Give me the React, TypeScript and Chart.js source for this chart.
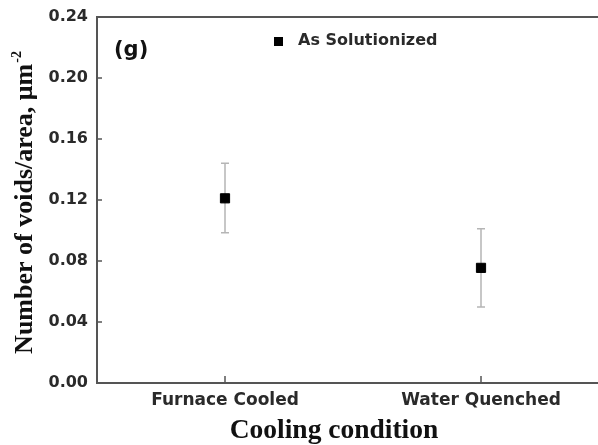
import React, { useEffect, useRef } from 'react';
import { Chart, registerables } from 'chart.js';

Chart.register(...registerables);

const categories = ['Furnace Cooled', 'Water Quenched'];
const categoryPositions = [1, 2];
const meanValues = [0.1211, 0.0755];
const errorLow = [0.0985, 0.0499];
const errorHigh = [0.1441, 0.1011];
const yTickValues = [0, 0.04, 0.08, 0.12, 0.16, 0.2, 0.24];
const seriesName = 'As Solutionized';
const panelLabel = '(g)';
const yTitleMain = 'Number of voids/area, μm';
const yTitleSup = '-2';
const xTitle = 'Cooling condition';

const AXIS_COLOR = '#555555';
const TEXT_COLOR = '#2a2a2a';

const decorPlugin = {
  id: 'decor',
  beforeDatasetsDraw(chart: any) {
    const { ctx, scales } = chart;
    const x = scales.x;
    const y = scales.y;
    ctx.save();
    ctx.strokeStyle = '#b5b5b5';
    ctx.lineWidth = 1.5;
    categoryPositions.forEach((c, i) => {
      const px = x.getPixelForValue(c);
      const top = y.getPixelForValue(errorHigh[i]);
      const bot = y.getPixelForValue(errorLow[i]);
      ctx.beginPath();
      ctx.moveTo(px, top);
      ctx.lineTo(px, bot);
      ctx.moveTo(px - 4, top);
      ctx.lineTo(px + 4, top);
      ctx.moveTo(px - 4, bot);
      ctx.lineTo(px + 4, bot);
      ctx.stroke();
    });
    ctx.restore();
  },
  afterDraw(chart: any) {
    const { ctx, scales, chartArea } = chart;
    const x = scales.x;
    const y = scales.y;
    ctx.save();
    // top frame line
    ctx.strokeStyle = AXIS_COLOR;
    ctx.lineWidth = 2;
    ctx.beginPath();
    ctx.moveTo(chartArea.left - 1, chartArea.top);
    ctx.lineTo(chartArea.right, chartArea.top);
    ctx.stroke();
    // inward ticks
    ctx.lineWidth = 1.5;
    ctx.beginPath();
    y.ticks.forEach((t: any) => {
      const py = y.getPixelForValue(t.value);
      ctx.moveTo(chartArea.left, py);
      ctx.lineTo(chartArea.left + 5, py);
    });
    x.ticks.forEach((t: any) => {
      const px = x.getPixelForValue(t.value);
      ctx.moveTo(px, chartArea.bottom);
      ctx.lineTo(px, chartArea.bottom - 7);
    });
    ctx.stroke();

    // legend
    ctx.fillStyle = '#000';
    ctx.fillRect(274, 37, 9, 9);
    ctx.fillStyle = TEXT_COLOR;
    ctx.font = 'bold 16px "DejaVu Sans"';
    ctx.textBaseline = 'middle';
    ctx.textAlign = 'left';
    ctx.fillText(seriesName, 298, 41);

    // panel label
    ctx.fillStyle = '#111';
    ctx.font = 'bold 21px "DejaVu Sans"';
    ctx.fillText(panelLabel, 114, 51);

    // x title
    ctx.fillStyle = '#111';
    ctx.font = 'bold 27.5px "Liberation Serif"';
    ctx.textAlign = 'center';
    ctx.textBaseline = 'alphabetic';
    ctx.fillText(xTitle, 334, 438);

    // y title (rotated)
    ctx.font = 'bold 26px "Liberation Serif"';
    const w1 = ctx.measureText(yTitleMain).width;
    ctx.font = 'bold 14px "Liberation Serif"';
    const w2 = ctx.measureText(yTitleSup).width;
    const total = w1 + w2 + 1;
    ctx.translate(32, 202.5);
    ctx.rotate(-Math.PI / 2);
    ctx.textAlign = 'left';
    ctx.font = 'bold 26px "Liberation Serif"';
    ctx.fillText(yTitleMain, -total / 2, 0);
    ctx.font = 'bold 14px "Liberation Serif"';
    ctx.fillText(yTitleSup, -total / 2 + w1 + 1, -11);
    ctx.restore();
  },
};

export default function App() {
  const canvasRef = useRef<HTMLCanvasElement | null>(null);

  useEffect(() => {
    const canvas = canvasRef.current;
    if (!canvas) return;
    const chart = new Chart(canvas, {
      type: 'scatter',
      data: {
        datasets: [
          {
            label: seriesName,
            data: categoryPositions.map((c, i) => ({ x: c, y: meanValues[i] })),
            pointStyle: 'rect',
            pointRadius: 6.5,
            pointHoverRadius: 6.5,
            backgroundColor: '#000',
            borderColor: '#000',
            borderWidth: 1,
          },
        ],
      },
      options: {
        responsive: false,
        animation: false,
        events: [],
        layout: { autoPadding: false, padding: { top: 17, right: 0, left: 0, bottom: 0 } },
        plugins: {
          legend: { display: false },
          tooltip: { enabled: false },
          title: { display: false },
        },
        scales: {
          x: {
            type: 'linear',
            min: 0.5,
            max: 2.457,
            grid: { display: false, drawTicks: false },
            border: { display: true, color: AXIS_COLOR, width: 2 },
            afterBuildTicks: (scale: any) => {
              scale.ticks = categoryPositions.map((v) => ({ value: v }));
            },
            afterFit: (scale: any) => {
              scale.height = 62;
              scale.paddingLeft = 0;
              scale.paddingRight = 0;
            },
            ticks: {
              padding: 7,
              color: TEXT_COLOR,
              font: { family: '"DejaVu Sans"', size: 17, weight: 'bold' },
              maxRotation: 0,
              callback: (value: any) => {
                const idx = categoryPositions.indexOf(Number(value));
                return idx >= 0 ? categories[idx] : '';
              },
            },
          },
          y: {
            type: 'linear',
            min: 0,
            max: 0.24,
            grid: { display: false, drawTicks: false },
            border: { display: true, color: AXIS_COLOR, width: 2 },
            afterBuildTicks: (scale: any) => {
              scale.ticks = yTickValues.map((v) => ({ value: v }));
            },
            afterFit: (scale: any) => {
              scale.width = 97;
              scale.paddingTop = 0;
              scale.paddingBottom = 0;
            },
            ticks: {
              padding: 9,
              color: TEXT_COLOR,
              font: { family: '"DejaVu Sans"', size: 16, weight: 'bold' },
              callback: (value: any) => Number(value).toFixed(2),
            },
          },
        },
      } as any,
      plugins: [decorPlugin],
    });
    return () => chart.destroy();
  }, []);

  return (
    <div style={{ position: 'absolute', left: 0, top: 0, width: 598, height: 445, background: '#fff' }}>
      <canvas ref={canvasRef} width={598} height={445} />
    </div>
  );
}
